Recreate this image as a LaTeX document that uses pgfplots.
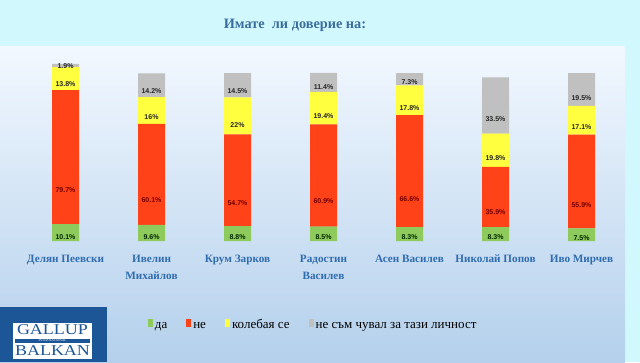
\documentclass[border=0pt]{standalone}
\usepackage{fontspec}
\usepackage{graphicx}
\usepackage{pgfplots}
\pgfplotsset{compat=1.18}
\usepackage{pgfplotstable}
\setmainfont{Liberation Serif}
\newfontfamily\lsans{Liberation Sans}
\definecolor{bgcyan}{HTML}{D0F8FD}
\definecolor{paneltop}{HTML}{F2F8FF}
\definecolor{panelbot}{HTML}{B4D0EC}
\definecolor{titleblue}{HTML}{3A6C9E}
\definecolor{lblblue}{HTML}{2F6CB0}
\definecolor{cgreen}{HTML}{8FCB5C}
\definecolor{cred}{HTML}{FF4218}
\definecolor{cyellow}{HTML}{FFFF40}
\definecolor{cgray}{HTML}{C0C0C0}
\definecolor{logoblue}{HTML}{1D5696}

\pgfplotstableread{
x v
0 10.1
1 9.6
2 8.8
3 8.5
4 8.3
5 8.3
6 7.5
}\da
\pgfplotstableread{
x v
0 79.7
1 60.1
2 54.7
3 60.9
4 66.6
5 35.9
6 55.9
}\ne
\pgfplotstableread{
x v
0 13.8
1 16
2 22
3 19.4
4 17.8
5 19.8
6 17.1
}\kol
\pgfplotstableread{
x v
0 1.9
1 14.2
2 14.5
3 11.4
4 7.3
5 33.5
6 19.5
}\nesam

\begin{document}
\begin{tikzpicture}[x=1pt,y=1pt]
\useasboundingbox (0,0) rectangle (640,362);
\fill[bgcyan] (0,0) rectangle (640,362);
\shade[top color=paneltop, bottom color=panelbot] (0,0) rectangle (625,315);
\node[font=\bfseries\fontsize{14.3}{16}\selectfont, text=titleblue] at (295,337) {Имате\ \ ли доверие на:};

\begin{axis}[
  at={(22.5pt,121pt)}, anchor=south west,
  x=86pt, y=1.679pt,
  xmin=-0.5, xmax=6.5, ymin=0, ymax=110,
  clip=false,
  ybar stacked, bar width=27pt,
  axis line style={draw=none},
  tick style={draw=none},
  ytick=\empty,
  xtick={0,...,6},
  xticklabels={Делян Пеевски,{Ивелин\\Михайлов},Крум Зарков,{Радостин\\Василев},Асен Василев,Николай Попов,Иво Мирчев},
  typeset ticklabels with strut,
  xticklabel style={align=center, text=lblblue, font=\bfseries\fontsize{11.2}{17}\selectfont, yshift=-6pt},
  point meta=explicit symbolic,
  nodes near coords={\pgfplotspointmeta\%},
  every node near coord/.append style={anchor=center, font=\lsans\bfseries\fontsize{7}{8}\selectfont, yshift=-\pgfplotspointmeta*0.41975pt},
  legend columns=4,
  legend style={at={(0.203,-0.458)}, anchor=west, draw=none, fill=none,
    font=\fontsize{13}{15}\selectfont,
    nodes={text height=9pt, text depth=3pt},
    /tikz/every even column/.append style={column sep=17pt}},
  legend image code/.code={\fill[#1] (0pt,-1pt) rectangle (5pt,7pt);},
]
\addplot[fill=cgreen, draw=none, every node near coord/.append style={text=black!85!green}] table[x=x,y=v,meta=v] {\da};
\addplot[fill=cred, draw=none, every node near coord/.append style={text=red!45!black}] table[x=x,y=v,meta=v] {\ne};
\addplot[fill=cyellow, draw=none, every node near coord/.append style={text=black!85}] table[x=x,y=v,meta=v] {\kol};
\addplot[fill=cgray, draw=none, every node near coord/.append style={text=black!85}] table[x=x,y=v,meta=v] {\nesam};
\legend{да,не,колебая се,не съм чувал за тази личност}
\end{axis}

\fill[logoblue] (0,0) rectangle (107,55);
\fill[white] (13,3) rectangle (92,39.5);
\node[text=logoblue, font=\fontsize{15}{15}\selectfont, inner sep=0] at (52.5,32) {\scalebox{1.2}[1]{GALLUP}};
\fill[logoblue] (15,19) rectangle (90,23.5);
\node[text=white, font=\fontsize{3.5}{4}\selectfont, inner sep=0] at (52.5,21.2) {INTERNATIONAL};
\node[text=logoblue, font=\fontsize{15}{15}\selectfont, inner sep=0] at (52.5,11) {\scalebox{1.2}[1]{BALKAN}};
\end{tikzpicture}
\end{document}
